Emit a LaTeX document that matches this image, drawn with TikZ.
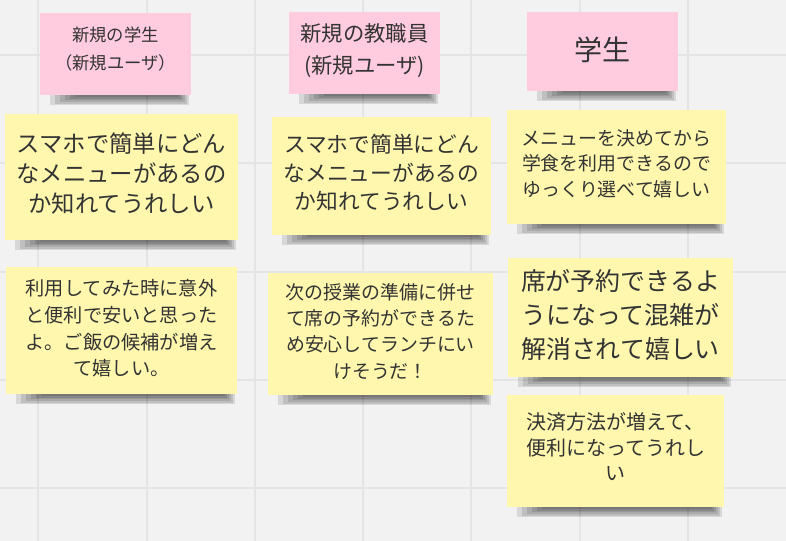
\documentclass[tikz,border=0pt]{standalone}
\usepackage{fontspec}
\newfontfamily\jp{Noto Sans CJK JP}
\usetikzlibrary{fit,backgrounds,calc}
\definecolor{bg}{HTML}{F2F2F2}
\definecolor{gridc}{HTML}{E4E4E4}
\definecolor{pinkn}{HTML}{FFCCDF}
\definecolor{yelln}{HTML}{FFF7AE}
\definecolor{txt}{HTML}{333333}
\newcommand\fs[2]{\fontsize{#1}{#2}\selectfont}
\tikzset{
  note/.style={inner sep=0pt},
  pinknote/.style={note, fill=pinkn},
  yellnote/.style={note, fill=yelln},
  notetext/.style={inner sep=0pt, align=center, text=txt},
  sz/.style 2 args={font={\jp\fs{#1}{#2}}},
  gridline/.style={gridc, line width=0.8pt},
  shadowlayer/.style={fill=black, opacity=0.11},
}
\newcommand\noteshadow[1]{%
  \foreach \i in {0,...,5} {%
    \fill[shadowlayer] ($(#1.south west)+(10+5*\i,-2)$) rectangle ($(#1.south east)+(-2-2*\i,10-1.6*\i)$);
  }%
}
\begin{document}
\begin{tikzpicture}[x=0.75pt,y=-0.75pt]
\useasboundingbox (0,0) rectangle (786,541);

% sticky notes
\node[pinknote, fit={(40,13) (191,95)}] (p1) {};
\node[pinknote, fit={(289,12) (440,94)}] (p2) {};
\node[pinknote, fit={(527,12) (678,91)}] (p3) {};
\node[yellnote, fit={(5,114) (238,240)}] (y1) {};
\node[yellnote, fit={(272,117) (491,235)}] (y2) {};
\node[yellnote, fit={(507,110) (726,224)}] (y3) {};
\node[yellnote, fit={(6,267) (237,394)}] (y4) {};
\node[yellnote, fit={(268,273) (493,395)}] (y5) {};
\node[yellnote, fit={(508,258) (733,377)}] (y6) {};
\node[yellnote, fit={(507,395) (724,507)}] (y7) {};

% texts
\node[notetext, sz={13}{21.5}, yshift=3.8pt] (p1t) at (p1.center) {新規の学生\\（新規ユーザ）};
\node[notetext, sz={16}{24}, yshift=2pt] (p2t) at (p2.center) {新規の教職員\\(新規ユーザ)};
\node[notetext, sz={21}{26}, yshift=1.5pt] (p3t) at (p3.center) {学生};
\node[notetext, sz={17.5}{22.5}, yshift=2.25pt] (y1t) at (y1.center) {スマホで簡単にどん\\なメニューがあるの\\か知れてうれしい};
\node[notetext, sz={16.3}{21.4}, yshift=2.2pt] (y2t) at (y2.center) {スマホで簡単にどん\\なメニューがあるの\\か知れてうれしい};
\node[notetext, sz={14.2}{19.2}, yshift=2.5pt] (y3t) at (y3.center) {メニューを決めてから\\学食を利用できるので\\ゆっくり選べて嬉しい};
\node[notetext, sz={14.4}{20}, yshift=1.4pt] (y4t) at (y4.center) {利用してみた時に意外\\と便利で安いと思った\\よ。ご飯の候補が増え\\て嬉しい。};
\node[notetext, sz={14.2}{19.8}, yshift=2pt] (y5t) at (y5.center) {次の授業の準備に併せ\\て席の予約ができるた\\め安心してランチにい\\けそうだ！};
\node[notetext, sz={18.7}{25.5}, yshift=2.25pt] (y6t) at (y6.center) {席が予約できるよ\\うになって混雑が\\解消されて嬉しい};
\node[notetext, sz={15}{19.2}, yshift=3.25pt] (y7t) at (y7.center) {決済方法が増えて、\\便利になってうれし\\い};

% background, grid and shadows
\begin{scope}[on background layer]
  \fill[bg] (0,0) rectangle (786,541);
  \foreach \x in {38,147,255,363,471,580,688} \draw[gridline] (\x,0) -- (\x,541);
  \foreach \y in {55,163,272,380,488} \draw[gridline] (0,\y) -- (786,\y);
  \foreach \n in {p1,p2,p3,y1,y2,y3,y4,y5,y6,y7} {\noteshadow{\n}}
\end{scope}
\end{tikzpicture}
\end{document}
